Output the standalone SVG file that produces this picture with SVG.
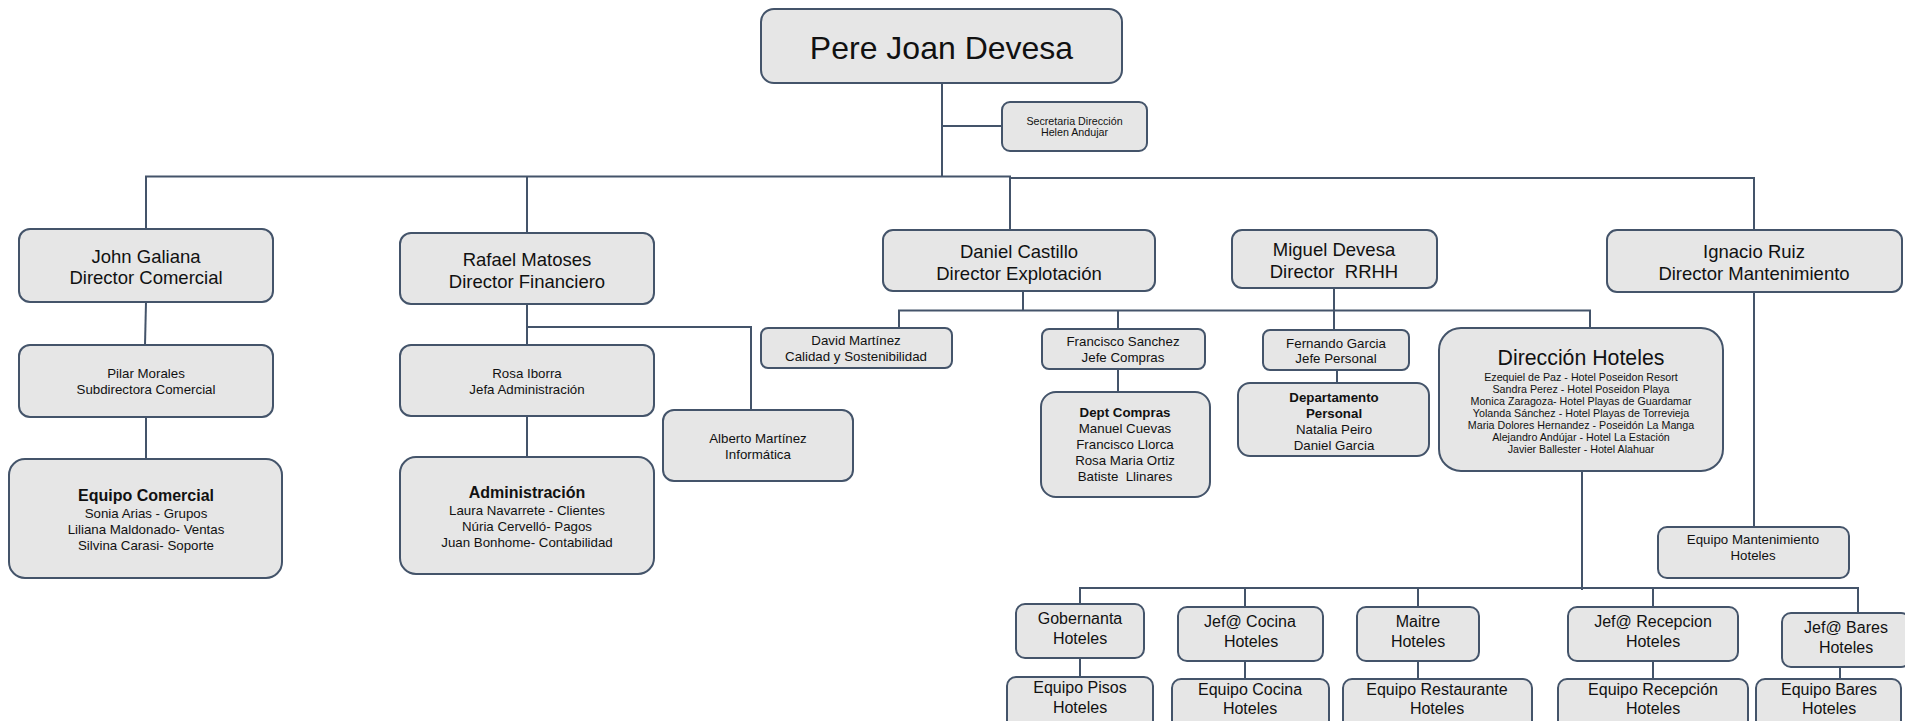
<svg xmlns="http://www.w3.org/2000/svg" width="1905" height="721" viewBox="0 0 1905 721">
<style>
rect{fill:#e6e6e6;stroke:#44546a;stroke-width:2}
.c path{fill:none;stroke:#44546a;stroke-width:2}
text{font-family:"Liberation Sans",Arial,sans-serif;fill:#111;text-anchor:middle;dominant-baseline:central}
.d{font-size:18.5px}
.s{font-size:13.3px}
.b{font-size:13.3px;font-weight:bold}
.bb{font-size:16px;font-weight:bold}
.m{font-size:16px}
.l{font-size:10.7px}
</style>
<rect width="1905" height="721" style="fill:#fff;stroke:none"/>
<g class="c" id="connectors">
<path d="M942,83 V176.5"/>
<path d="M942,126 H1002"/>
<path d="M146,229 V176.5 H1010 V178 H1754 V230"/>
<path d="M527,176.5 V233"/>
<path d="M1010,176.5 V230"/>
<path d="M146,302 L145,345"/>
<path d="M146,417 V459"/>
<path d="M527,304 V345"/>
<path d="M527,327 H751 V410"/>
<path d="M527,416 V457"/>
<path d="M1023,291 V310.5"/>
<path d="M899,328 V310.5 H1590 V328"/>
<path d="M1118,310.5 V329"/>
<path d="M1118,369 V392"/>
<path d="M1334,288 V330"/>
<path d="M1337,370 V383"/>
<path d="M1754,292 V527"/>
<path d="M1582,471 V590"/>
<path d="M1080,604 V588 H1858 V613"/>
<path d="M1245,588 V607"/>
<path d="M1418,588 V607"/>
<path d="M1653,588 V607"/>
<path d="M1080,658 V677"/>
<path d="M1245,661 V679"/>
<path d="M1418,661 V679"/>
<path d="M1653,661 V679"/>
<path d="M1840,667 V679"/>
</g>
<g id="pere"><rect x="761" y="9" width="361" height="74" rx="13"/><text x="941.5" y="48" style="font-size:32px">Pere Joan Devesa</text></g>
<g id="secretaria"><rect x="1002" y="102" width="145" height="49" rx="8"/><text x="1074.5" y="121" style="font-size:10.7px">Secretaria Dirección</text><text x="1074.5" y="132" style="font-size:10.7px">Helen Andujar</text></g>
<g id="john"><rect x="19" y="229" width="254" height="73" rx="11"/><text class="d" x="146" y="256">John Galiana</text><text class="d" x="146" y="277">Director Comercial</text></g>
<g id="pilar"><rect x="19" y="345" width="254" height="72" rx="11"/><text class="s" x="146" y="373">Pilar Morales</text><text class="s" x="146" y="389">Subdirectora Comercial</text></g>
<g id="equipo-comercial"><rect x="9" y="459" width="273" height="119" rx="16"/><text class="bb" x="146" y="495">Equipo Comercial</text><text class="s" x="146" y="513">Sonia Arias - Grupos</text><text class="s" x="146" y="529">Liliana Maldonado- Ventas</text><text class="s" x="146" y="545">Silvina Carasi- Soporte</text></g>
<g id="rafael"><rect x="400" y="233" width="254" height="71" rx="11"/><text class="d" x="527" y="259">Rafael Matoses</text><text class="d" x="527" y="281">Director Financiero</text></g>
<g id="rosa"><rect x="400" y="345" width="254" height="71" rx="11"/><text class="s" x="527" y="373">Rosa Iborra</text><text class="s" x="527" y="389">Jefa Administración</text></g>
<g id="administracion"><rect x="400" y="457" width="254" height="117" rx="16"/><text class="bb" x="527" y="492">Administración</text><text class="s" x="527" y="510">Laura Navarrete - Clientes</text><text class="s" x="527" y="526">Núria Cervelló- Pagos</text><text class="s" x="527" y="542">Juan Bonhome- Contabilidad</text></g>
<g id="alberto"><rect x="663" y="410" width="190" height="71" rx="11"/><text class="s" x="758" y="438">Alberto Martínez</text><text class="s" x="758" y="454">Informática</text></g>
<g id="daniel"><rect x="883" y="230" width="272" height="61" rx="10"/><text class="d" x="1019" y="251">Daniel Castillo</text><text class="d" x="1019" y="273">Director Explotación</text></g>
<g id="david"><rect x="761" y="328" width="191" height="40" rx="7"/><text class="s" x="856" y="340">David Martínez</text><text class="s" x="856" y="356">Calidad y Sostenibilidad</text></g>
<g id="francisco"><rect x="1042" y="329" width="163" height="40" rx="7"/><text class="s" x="1123" y="341">Francisco Sanchez</text><text class="s" x="1123" y="357">Jefe Compras</text></g>
<g id="dept-compras"><rect x="1041" y="392" width="169" height="105" rx="15"/><text class="b" x="1125" y="412">Dept Compras</text><text class="s" x="1125" y="428">Manuel Cuevas</text><text class="s" x="1125" y="444">Francisco Llorca</text><text class="s" x="1125" y="460">Rosa Maria Ortiz</text><text class="s" x="1125" y="476" style="white-space:pre">Batiste  Llinares</text></g>
<g id="miguel"><rect x="1232" y="230" width="205" height="58" rx="10"/><text class="d" x="1334" y="249">Miguel Devesa</text><text class="d" x="1334" y="271" style="white-space:pre">Director  RRHH</text></g>
<g id="fernando"><rect x="1263" y="330" width="146" height="40" rx="7"/><text class="s" x="1336" y="343">Fernando Garcia</text><text class="s" x="1336" y="358">Jefe Personal</text></g>
<g id="departamento-personal"><rect x="1238" y="383" width="191" height="73" rx="12"/><text class="b" x="1334" y="397">Departamento</text><text class="b" x="1334" y="413">Personal</text><text class="s" x="1334" y="429">Natalia Peiro</text><text class="s" x="1334" y="445">Daniel Garcia</text></g>
<g id="direccion-hoteles"><rect x="1439" y="328" width="284" height="143" rx="22"/><text x="1581" y="358" style="font-size:21.3px">Dirección Hoteles</text>
<text class="l" x="1581" y="377">Ezequiel de Paz - Hotel Poseidon Resort</text>
<text class="l" x="1581" y="389">Sandra Perez - Hotel Poseidon Playa</text>
<text class="l" x="1581" y="401">Monica Zaragoza- Hotel Playas de Guardamar</text>
<text class="l" x="1581" y="413">Yolanda Sánchez - Hotel Playas de Torrevieja</text>
<text class="l" x="1581" y="425">Maria Dolores Hernandez - Poseidón La Manga</text>
<text class="l" x="1581" y="437">Alejandro Andújar - Hotel La Estación</text>
<text class="l" x="1581" y="449">Javier Ballester - Hotel Alahuar</text></g>
<g id="ignacio"><rect x="1607" y="230" width="295" height="62" rx="10"/><text class="d" x="1754" y="251">Ignacio Ruiz</text><text class="d" x="1754" y="273">Director Mantenimiento</text></g>
<g id="equipo-mantenimiento"><rect x="1658" y="527" width="191" height="51" rx="9"/><text class="s" x="1753" y="539">Equipo Mantenimiento</text><text class="s" x="1753" y="555">Hoteles</text></g>
<g id="gobernanta"><rect x="1016" y="604" width="128" height="54" rx="9"/><text class="m" x="1080" y="618">Gobernanta</text><text class="m" x="1080" y="638">Hoteles</text></g>
<g id="jefe-cocina"><rect x="1178" y="607" width="145" height="54" rx="9"/><text class="m" x="1250" y="621">Jef@ Cocina</text><text class="m" x="1251" y="641">Hoteles</text></g>
<g id="maitre"><rect x="1357" y="607" width="122" height="54" rx="9"/><text class="m" x="1418" y="621">Maitre</text><text class="m" x="1418" y="641">Hoteles</text></g>
<g id="jefe-recepcion"><rect x="1568" y="607" width="170" height="54" rx="9"/><text class="m" x="1653" y="621">Jef@ Recepcion</text><text class="m" x="1653" y="641">Hoteles</text></g>
<g id="jefe-bares"><rect x="1782" y="613" width="128" height="54" rx="9"/><text class="m" x="1846" y="627">Jef@ Bares</text><text class="m" x="1846" y="647">Hoteles</text></g>
<g id="equipo-pisos"><rect x="1007" y="677" width="146" height="60" rx="9"/><text class="m" x="1080" y="687">Equipo Pisos</text><text class="m" x="1080" y="707">Hoteles</text></g>
<g id="equipo-cocina"><rect x="1172" y="679" width="157" height="60" rx="9"/><text class="m" x="1250" y="689">Equipo Cocina</text><text class="m" x="1250" y="708">Hoteles</text></g>
<g id="equipo-restaurante"><rect x="1343" y="679" width="189" height="60" rx="9"/><text class="m" x="1437" y="689">Equipo Restaurante</text><text class="m" x="1437" y="708">Hoteles</text></g>
<g id="equipo-recepcion"><rect x="1558" y="679" width="190" height="60" rx="9"/><text class="m" x="1653" y="689">Equipo Recepción</text><text class="m" x="1653" y="708">Hoteles</text></g>
<g id="equipo-bares"><rect x="1756" y="679" width="145" height="60" rx="9"/><text class="m" x="1829" y="689">Equipo Bares</text><text class="m" x="1829" y="708">Hoteles</text></g>
</svg>
